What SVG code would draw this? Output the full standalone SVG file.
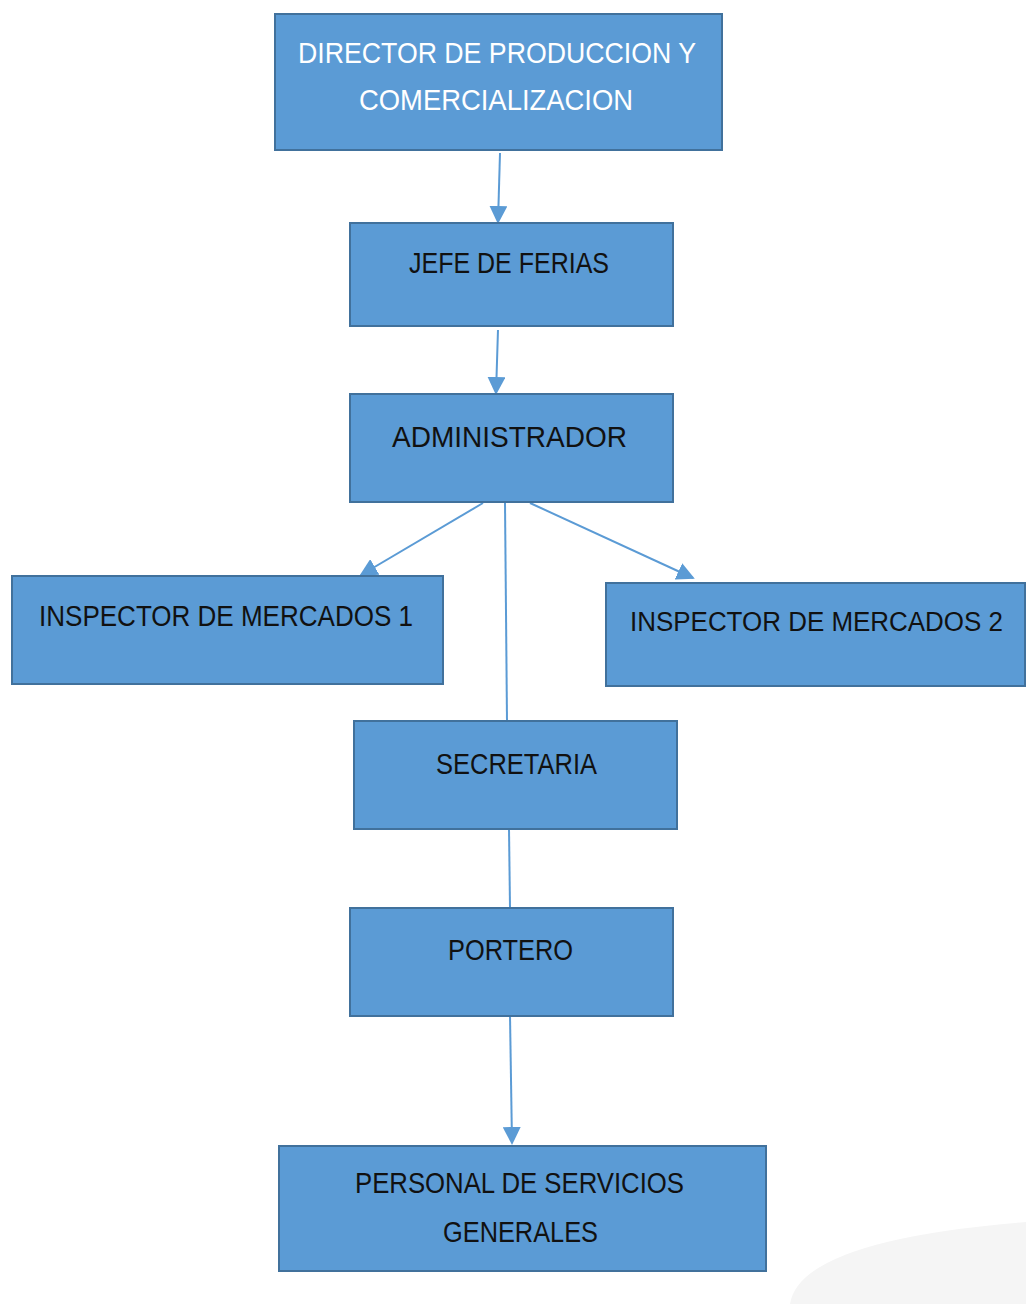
<svg xmlns="http://www.w3.org/2000/svg" width="1026" height="1304" viewBox="0 0 1026 1304">
<style>
.box{fill:#5B9BD5;stroke:#41719C;stroke-width:2}
.t{font-family:"Liberation Sans",Arial,sans-serif;font-size:30px;fill:#111}
.t27{font-size:27px}
.w{fill:#ffffff}
.c{stroke:#5B9BD5;stroke-width:2;fill:none}
</style>
<defs>
<marker id="ah" markerWidth="9" markerHeight="9" refX="8" refY="4.5" orient="auto" markerUnits="strokeWidth">
<path d="M0,0 L9,4.5 L0,9 Z" fill="#5B9BD5"/>
</marker>
</defs>
<rect width="1026" height="1304" fill="#ffffff"/>
<path d="M790,1304 Q800,1240 1026,1222 L1026,1304 Z" fill="#f5f5f5"/>
<g id="connectors">
<line class="c" x1="500" y1="153" x2="498" y2="222" marker-end="url(#ah)"/>
<line class="c" x1="498" y1="330" x2="496" y2="393" marker-end="url(#ah)"/>
<line class="c" x1="483" y1="503" x2="361" y2="575" marker-end="url(#ah)"/>
<line class="c" x1="530" y1="503" x2="693" y2="578" marker-end="url(#ah)"/>
<line class="c" x1="505" y1="503" x2="507" y2="721"/>
<line class="c" x1="509" y1="829" x2="510" y2="908"/>
<line class="c" x1="510" y1="1016" x2="512" y2="1143" marker-end="url(#ah)"/>
</g>
<g id="director">
<rect class="box" x="275" y="14" width="447" height="136"/>
<text class="t w" x="298" y="63" textLength="398" lengthAdjust="spacingAndGlyphs">DIRECTOR DE PRODUCCION Y</text>
<text class="t w" x="359" y="110" textLength="274" lengthAdjust="spacingAndGlyphs">COMERCIALIZACION</text>
</g>
<g id="jefe">
<rect class="box" x="350" y="223" width="323" height="103"/>
<text class="t" x="409" y="273" textLength="200" lengthAdjust="spacingAndGlyphs">JEFE DE FERIAS</text>
</g>
<g id="administrador">
<rect class="box" x="350" y="394" width="323" height="108"/>
<text class="t" x="392" y="447" textLength="235" lengthAdjust="spacingAndGlyphs">ADMINISTRADOR</text>
</g>
<g id="inspector1">
<rect class="box" x="12" y="576" width="431" height="108"/>
<text class="t" x="39" y="626" textLength="374" lengthAdjust="spacingAndGlyphs">INSPECTOR DE MERCADOS 1</text>
</g>
<g id="inspector2">
<rect class="box" x="606" y="583" width="419" height="103"/>
<text class="t t27" x="630" y="631" textLength="373" lengthAdjust="spacingAndGlyphs">INSPECTOR DE MERCADOS 2</text>
</g>
<g id="secretaria">
<rect class="box" x="354" y="721" width="323" height="108"/>
<text class="t" x="436" y="774" textLength="161" lengthAdjust="spacingAndGlyphs">SECRETARIA</text>
</g>
<g id="portero">
<rect class="box" x="350" y="908" width="323" height="108"/>
<text class="t" x="448" y="960" textLength="125" lengthAdjust="spacingAndGlyphs">PORTERO</text>
</g>
<g id="personal">
<rect class="box" x="279" y="1146" width="487" height="125"/>
<text class="t" x="355" y="1193" textLength="329" lengthAdjust="spacingAndGlyphs">PERSONAL DE SERVICIOS</text>
<text class="t" x="443" y="1242" textLength="155" lengthAdjust="spacingAndGlyphs">GENERALES</text>
</g>
</svg>
